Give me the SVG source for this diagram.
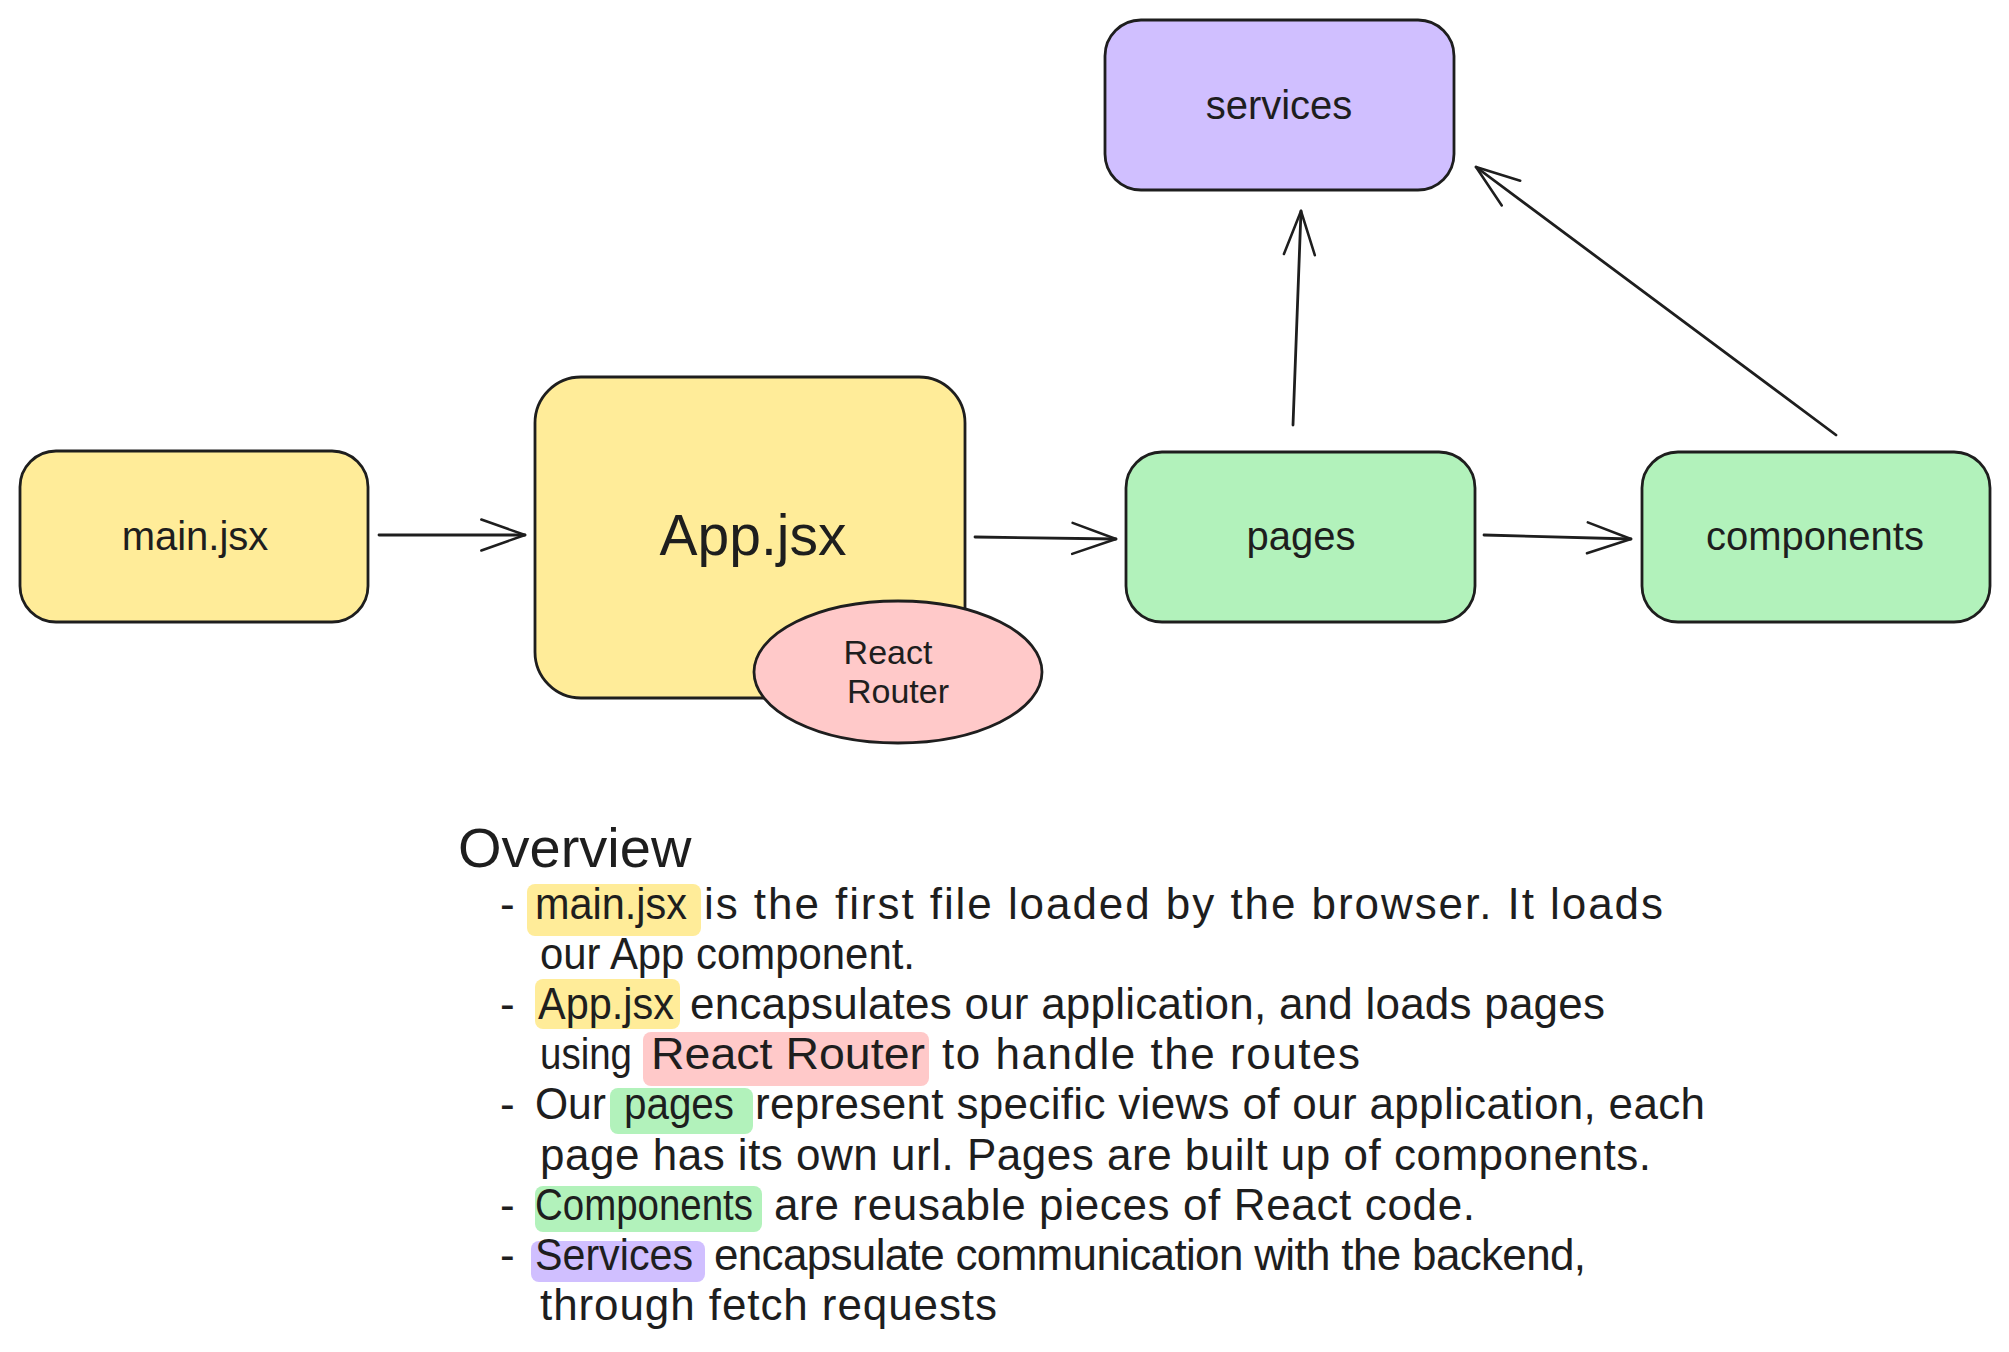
<svg xmlns="http://www.w3.org/2000/svg" width="2009" height="1352" viewBox="0 0 2009 1352">
<style>
.box{stroke:#1e1e1e;stroke-width:2.8;stroke-linejoin:round}
.yellow{fill:#ffec99}
.green{fill:#b2f2bb}
.purple{fill:#d0bfff}
.pink{fill:#ffc9c9}
.lbl{font-family:"Liberation Sans",Arial,sans-serif;fill:#1e1e1e;text-anchor:middle}
.body{font-family:"Liberation Sans",Arial,sans-serif;fill:#1e1e1e;font-size:44px}
.title{font-family:"Liberation Sans",Arial,sans-serif;fill:#1e1e1e;font-size:56px}
.conn{fill:none;stroke:#1e1e1e;stroke-width:2.8;stroke-linecap:round}
</style>
<defs>
<marker id="head" markerUnits="userSpaceOnUse" markerWidth="60" markerHeight="40" refX="0" refY="0" viewBox="-55 -22 60 44" orient="auto" overflow="visible">
<path d="M -48 -17 L 0 0 L -48 17" fill="none" stroke="#1e1e1e" stroke-width="2.8" stroke-linecap="round" stroke-linejoin="round"/>
</marker>
</defs>
<rect width="2009" height="1352" fill="#ffffff"/>

<g id="connectors">
<path class="conn" d="M 379 535 L 525 535" marker-end="url(#head)"/>
<path class="conn" d="M 975 537 L 1116 539" marker-end="url(#head)"/>
<path class="conn" d="M 1484 535 L 1631 539" marker-end="url(#head)"/>
<path class="conn" d="M 1293 425 L 1301 211" marker-end="url(#head)"/>
<path class="conn" d="M 1836 435 L 1476 167" marker-end="url(#head)"/>
</g>

<g id="node-main">
<rect class="box yellow" x="20" y="451" width="348" height="171" rx="36"/>
<text class="lbl" x="195" y="550" font-size="40">main.jsx</text>
</g>

<g id="node-app">
<rect class="box yellow" x="535" y="377" width="430" height="321" rx="46"/>
<text class="lbl" x="753" y="555" font-size="57">App.jsx</text>
</g>

<g id="node-router">
<ellipse class="box pink" cx="898" cy="672" rx="144" ry="71"/>
<text class="lbl" x="888" y="664" font-size="34">React</text>
<text class="lbl" x="898" y="703" font-size="34">Router</text>
</g>

<g id="node-pages">
<rect class="box green" x="1126" y="452" width="349" height="170" rx="36"/>
<text class="lbl" x="1301" y="550" font-size="40">pages</text>
</g>

<g id="node-components">
<rect class="box green" x="1642" y="452" width="348" height="170" rx="36"/>
<text class="lbl" x="1815" y="550" font-size="40">components</text>
</g>

<g id="node-services">
<rect class="box purple" x="1105" y="20" width="349" height="170" rx="36"/>
<text class="lbl" x="1279" y="119" font-size="40">services</text>
</g>

<g id="overview">
<rect class="yellow" x="527" y="884" width="174" height="52" rx="8"/>
<rect class="yellow" x="535" y="979" width="145" height="50" rx="8"/>
<rect class="pink" x="643" y="1032" width="286" height="54" rx="8"/>
<rect class="green" x="610" y="1088" width="143" height="46" rx="8"/>
<rect class="green" x="535" y="1186" width="227" height="46" rx="8"/>
<rect class="purple" x="531" y="1241" width="174" height="41" rx="8"/>

<text class="title" x="458" y="867">Overview</text>

<text class="body" x="500" y="919">-</text>
<text class="body" x="535" y="919" textLength="152" lengthAdjust="spacingAndGlyphs">main.jsx</text>
<text class="body" x="704" y="919" textLength="959" lengthAdjust="spacing">is the first file loaded by the browser. It loads</text>

<text class="body" x="540" y="969" textLength="375" lengthAdjust="spacingAndGlyphs">our App component.</text>

<text class="body" x="500" y="1019">-</text>
<text class="body" x="538" y="1019" textLength="136" lengthAdjust="spacingAndGlyphs">App.jsx</text>
<text class="body" x="690" y="1019" textLength="915" lengthAdjust="spacing">encapsulates our application, and loads pages</text>

<text class="body" x="540" y="1069" textLength="92" lengthAdjust="spacingAndGlyphs">using</text>
<text class="body" x="651" y="1069" textLength="274" lengthAdjust="spacingAndGlyphs">React Router</text>
<text class="body" x="942" y="1069" textLength="418" lengthAdjust="spacing">to handle the routes</text>

<text class="body" x="500" y="1119">-</text>
<text class="body" x="535" y="1119" textLength="71" lengthAdjust="spacingAndGlyphs">Our</text>
<text class="body" x="624" y="1119" textLength="110" lengthAdjust="spacingAndGlyphs">pages</text>
<text class="body" x="755" y="1119" textLength="950" lengthAdjust="spacing">represent specific views of our application, each</text>

<text class="body" x="540" y="1170" textLength="1111" lengthAdjust="spacing">page has its own url. Pages are built up of components.</text>

<text class="body" x="500" y="1220">-</text>
<text class="body" x="535" y="1220" textLength="218" lengthAdjust="spacingAndGlyphs">Components</text>
<text class="body" x="774" y="1220" textLength="701" lengthAdjust="spacing">are reusable pieces of React code.</text>

<text class="body" x="500" y="1270">-</text>
<text class="body" x="535" y="1270" textLength="158" lengthAdjust="spacingAndGlyphs">Services</text>
<text class="body" x="714" y="1270" textLength="872" lengthAdjust="spacing">encapsulate communication with the backend,</text>

<text class="body" x="540" y="1320" textLength="457" lengthAdjust="spacing">through fetch requests</text>
</g>
</svg>
